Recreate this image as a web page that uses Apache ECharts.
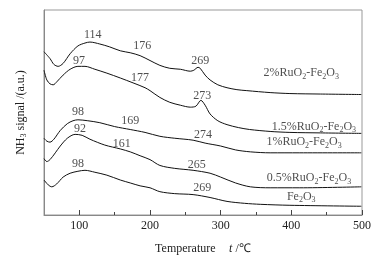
<!DOCTYPE html>
<html><head><meta charset="utf-8">
<script src="https://cdn.jsdelivr.net/npm/echarts@6/dist/echarts.min.js"></script>
<style>html,body{margin:0;padding:0;background:#fff}#c{width:376px;height:260px}</style>
</head><body><div id="c"></div>
<script>
// Data: [temperature, signal (a.u.)]
const s2 = [[50,168],[58.5,161],[64,155],[70,153],[77,156],[87,166],[98,174],[108,177],[115,178],[129,176],[143,173],[158,169],[172,167],[186,164],[200,159],[214,154],[228,151],[243,150],[257,148],[262,149],[268,152],[271,151],[278,144],[285,139],[296,134],[309,131],[323,129],[337,128],[370,126],[398,125],[441,124.5],[499,124]];
const s15 = [[50,149],[54,139],[58.5,135],[63,134],[68,137],[77,144],[87,150],[98,153],[108,153],[122,150],[139,146],[158,141],[176,136],[193,131],[200,128],[214,121],[228,116],[243,113],[257,111],[265,112],[272,118],[278,113],[285,104],[296,97],[309,93],[325,90],[341,88],[370,86],[398,85],[441,84.5],[499,84]];
const s1 = [[50,79],[54,76],[58.5,75],[64,78],[73,87],[83,94],[91,97],[98,98],[112,97],[129,95],[150,91],[172,88],[193,85],[214,81],[235,79],[261,77],[278,74],[300,71],[321,67],[342,65],[370,64],[412,64],[499,64]];
const s05 = [[50,58],[54,55],[58.5,57],[66,64],[73,71],[83,79],[94,83],[104,82],[115,78],[136,72],[158,68],[172,65],[186,61],[200,57],[214,51],[235,48],[261,46],[285,43],[300,39],[321,33],[342,29],[370,28],[412,28],[499,29]];
const sFe = [[50,36],[56,31],[61,29],[68,32],[77,39],[87,43],[98,45],[108,46],[122,44],[139,41],[158,36],[172,33],[186,30],[200,28],[214,24],[235,22],[261,21],[285,18],[309,14],[334,12],[356,11],[398,10],[499,9]];
// Peak annotations [x, y, text]
const peakLabels = [[119,185,'114'],[189,174,'176'],[271,159,'269'],[99.5,159,'97'],[186,141,'177'],[274,123,'273'],[98,106,'98'],[172,97,'169'],[275,82,'274'],[101,89,'92'],[160,73,'161'],[266,52,'265'],[98,53,'98'],[274,28,'269']];
// Sample names [x, y, rich text]
const sampleLabels = [[414,146,'2%RuO{s|2}-Fe{s|2}O{s|3}'],[432,91,'1.5%RuO{s|2}-Fe{s|2}O{s|3}'],[418,75,'1%RuO{s|2}-Fe{s|2}O{s|3}'],[425,38,'0.5%RuO{s|2}-Fe{s|2}O{s|3}'],[414,19,'Fe{s|2}O{s|3}']];
const majorTicks = [100,200,300,400,500];
const minorTicks = [150,250,350,450];

const FONT = 'Liberation Serif';
const rich = { s: { fontSize: 8, fontFamily: FONT, color: '#222', padding: [7,0,0,0] } };
const lineSeries = [s2, s15, s1, s05, sFe].map(d => ({
  type: 'line', data: d, showSymbol: false, smooth: 0.3,
  lineStyle: { color: '#111', width: 1 }, silent: true
}));
const chart = echarts.init(document.getElementById('c'), null, { renderer: 'canvas' });
chart.setOption({
  animation: false,
  backgroundColor: '#fff',
  grid: { left: 44, right: 14, top: 10, bottom: 39, show: true, borderColor: '#999', borderWidth: 1 },
  xAxis: [{
    type: 'value', min: 50, max: 500, interval: 50,
    axisLine: { lineStyle: { color: '#888' } },
    axisTick: { inside: true, length: 5, customValues: majorTicks, lineStyle: { color: '#444' } },
    axisLabel: { customValues: majorTicks, fontFamily: FONT, fontSize: 12, color: '#222', margin: 5 },
    splitLine: { show: false },
    name: '{n|Temperature}    {i|t} {n|/℃}', nameLocation: 'middle', nameGap: 28,
    nameTextStyle: { rich: { n: { fontFamily: FONT, fontSize: 12, color: '#222' }, i: { fontFamily: FONT, fontStyle: 'italic', fontSize: 12, color: '#222' } } }
  }, {
    type: 'value', min: 50, max: 500, interval: 50, position: 'bottom',
    axisLine: { show: false },
    axisTick: { inside: true, length: 3, customValues: minorTicks, lineStyle: { color: '#444' } },
    axisLabel: { show: false }, splitLine: { show: false }
  }],
  yAxis: {
    type: 'value', min: 0, max: 211,
    axisLine: { show: true, lineStyle: { color: '#888' } },
    axisTick: { show: false }, axisLabel: { show: false }, splitLine: { show: false },
    name: '{n|NH}{s|3}{n| signal /(a.u.)}', nameLocation: 'middle', nameGap: 16, nameRotate: 90,
    nameTextStyle: { rich: { n: { fontFamily: FONT, fontSize: 12, color: '#222' }, s: { fontFamily: FONT, fontSize: 8, color: '#222', padding: [7,0,0,0] } } }
  },
  series: lineSeries.concat([{
    type: 'scatter', symbolSize: 0, silent: true,
    data: peakLabels.map(p => ({ value: [p[0], p[1]], name: p[2] })),
    label: { show: true, position: 'inside', formatter: p => p.name, fontFamily: FONT, fontSize: 12, color: '#222' }
  }, {
    type: 'scatter', symbolSize: 0, silent: true,
    data: sampleLabels.map(p => ({ value: [p[0], p[1]], name: p[2] })),
    label: { show: true, position: 'inside', formatter: p => p.name, fontFamily: FONT, fontSize: 12, color: '#222', rich: rich }
  }])
});
</script></body></html>
